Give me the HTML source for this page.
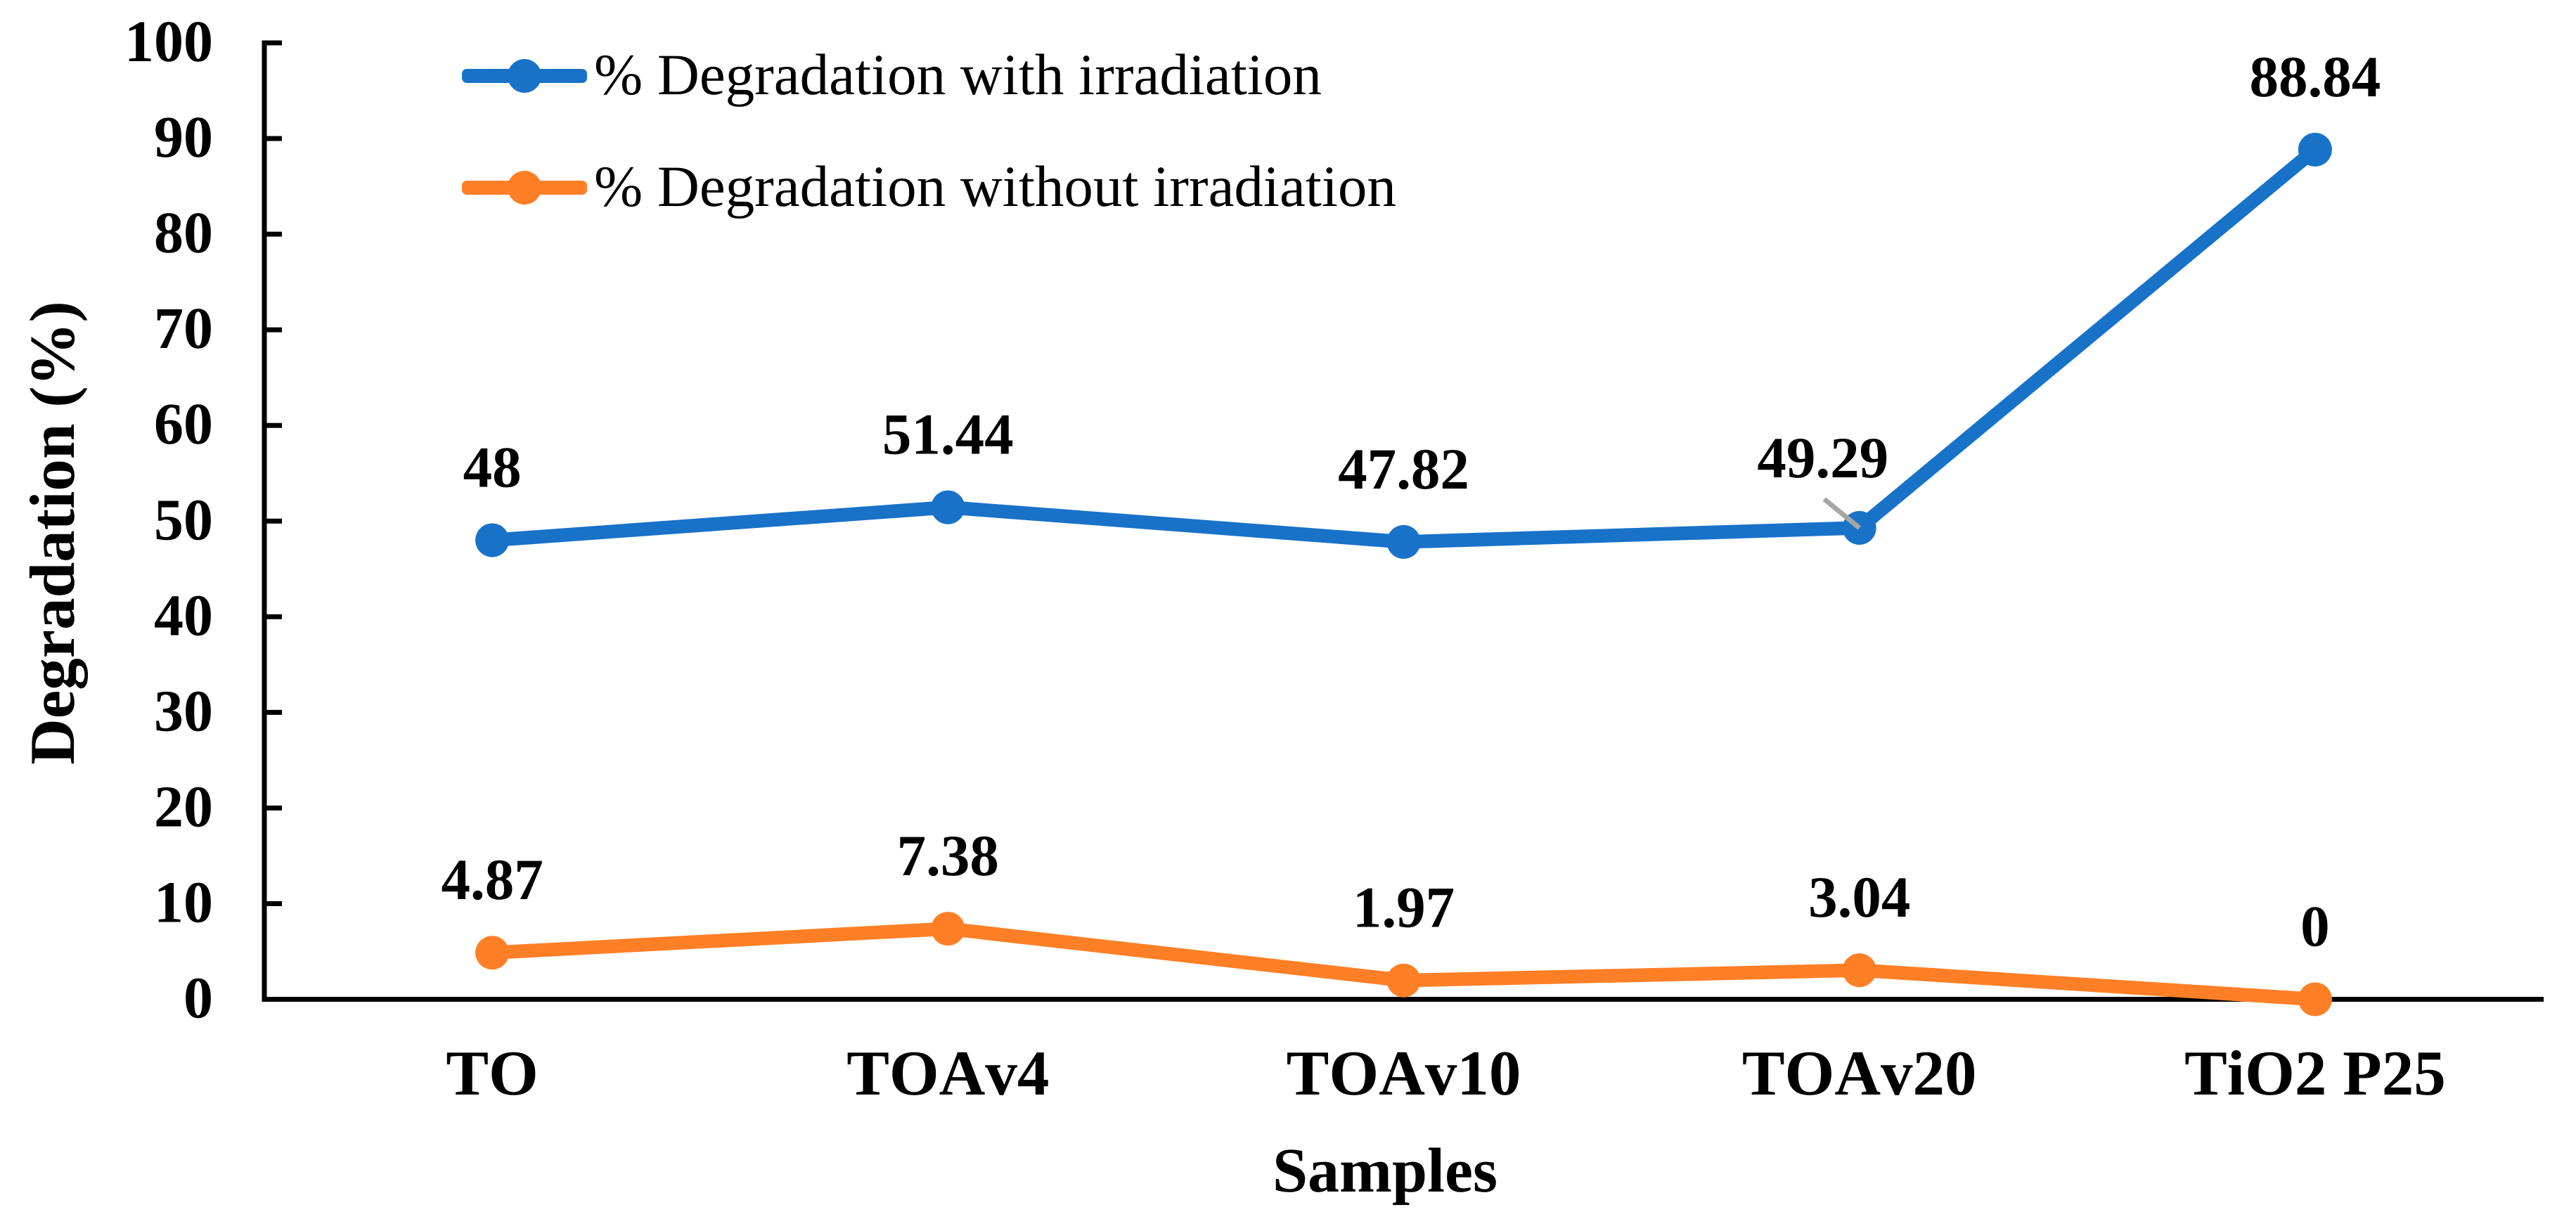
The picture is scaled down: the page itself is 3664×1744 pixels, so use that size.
<!DOCTYPE html>
<html lang="en">
<head>
<meta charset="utf-8">
<title>Degradation chart</title>
<style>
  html, body { margin: 0; padding: 0; background: #ffffff; }
  body { width: 3664px; height: 1744px; overflow: hidden; }
  svg { display: block; }
  text { font-family: "Liberation Serif", serif; fill: #000000; font-kerning: none; text-rendering: geometricPrecision; }
  .bold { font-weight: bold; }
</style>
</head>
<body>
<svg id="chart" xmlns="http://www.w3.org/2000/svg" width="3664" height="1744" viewBox="0 0 3664 1744">
  <rect x="0" y="0" width="3664" height="1744" fill="#ffffff"/>
  <text class="bold" font-size="91" text-anchor="middle" transform="translate(105 758) rotate(-90)">Degradation (%)</text>
  <text class="bold" font-size="90" text-anchor="middle" x="1970" y="1695">Samples</text>
  <g id="ticks"></g>
  <g id="cats"></g>
  <rect x="372.5" y="57.5" width="7" height="1367.5" fill="#000000"/>
  <rect x="372.5" y="1418" width="3245.5" height="7" fill="#000000"/>
  <g id="series"></g>
  <g id="labels"></g>
  <g>
    <g>
      <rect x="657" y="98" width="178" height="20" rx="7" fill="#1872c8"/>
      <circle cx="746" cy="108" r="24" fill="#1872c8"/>
      <text font-size="83" x="845" y="134">% Degradation with irradiation</text>
    </g>
    <g>
      <rect x="657" y="257" width="178" height="20" rx="7" fill="#ff7f27"/>
      <circle cx="746" cy="267" r="24" fill="#ff7f27"/>
      <text font-size="83" x="845" y="293">% Degradation without irradiation</text>
    </g>
  </g>
</svg>
<script>
const categories = ["TO", "TOAv4", "TOAv10", "TOAv20", "TiO2 P25"];
const withIrradiation = [48, 51.44, 47.82, 49.29, 88.84];
const withoutIrradiation = [4.87, 7.38, 1.97, 3.04, 0];
const yTickLabels = [0, 10, 20, 30, 40, 50, 60, 70, 80, 90, 100];

const NS = "http://www.w3.org/2000/svg";
const plotLeft = 376, plotRight = 3617, plotTop = 61, plotBottom = 1421.5, yMax = 100;
const labelGap = 76, calloutIndex = 3, calloutShift = -52;

function xScale(i) { return plotLeft + (i + 0.5) * (plotRight - plotLeft) / categories.length; }
function yScale(v) { return plotBottom - v / yMax * (plotBottom - plotTop); }
function make(tag, attrs, parent, txt) {
  const el = document.createElementNS(NS, tag);
  for (const k in attrs) el.setAttribute(k, attrs[k]);
  if (txt !== undefined) el.textContent = txt;
  parent.appendChild(el);
  return el;
}

const tickGroup = document.getElementById("ticks");
yTickLabels.forEach(function (t) {
  const y = yScale(t);
  if (t > 0) {
    const mark = make("rect", { x: 376, y: y - 3.5, width: 25, height: 7, fill: "#000000" }, tickGroup);
    
    
  }
  const lab = make("text", { x: 303, y: y + 26, "font-size": 84, "text-anchor": "end", "class": "bold" }, tickGroup, String(t));
  
  
});

const catGroup = document.getElementById("cats");
categories.forEach(function (c, i) {
  const lab = make("text", { x: xScale(i), y: 1557, "font-size": 91, "text-anchor": "middle", "class": "bold" }, catGroup, c);
  
  
});

const seriesGroup = document.getElementById("series");
const labelGroup = document.getElementById("labels");

function drawSeries(values, color, hasCallout) {
  const pts = values.map(function (v, i) { return xScale(i) + "," + yScale(v); }).join(" ");
  const line = make("polyline", { points: pts, fill: "none", stroke: color, "stroke-width": 19.5, "stroke-linejoin": "round" }, seriesGroup);
  
  
  values.forEach(function (v, i) {
    const dot = make("circle", { cx: xScale(i), cy: yScale(v), r: 24, fill: color }, seriesGroup);
    
    
    const shifted = hasCallout && i === calloutIndex;
    const lab = make("text", {
      x: xScale(i) + (shifted ? calloutShift : 0),
      y: yScale(v) - labelGap + (shifted ? 4 : 0),
      "font-size": 83,
      "text-anchor": "middle",
      "class": "bold"
    }, labelGroup, String(v));
    
    
    if (shifted) {
      const leader = make("line", {
        x1: xScale(i), y1: yScale(v),
        x2: xScale(i) + calloutShift + 2, y2: yScale(v) - 41,
        stroke: "#a6a6a6", "stroke-width": 7
      }, labelGroup);
      
      
    }
  });
}

drawSeries(withIrradiation, "#1872c8", true);
drawSeries(withoutIrradiation, "#ff7f27", false);
</script>
</body>
</html>
